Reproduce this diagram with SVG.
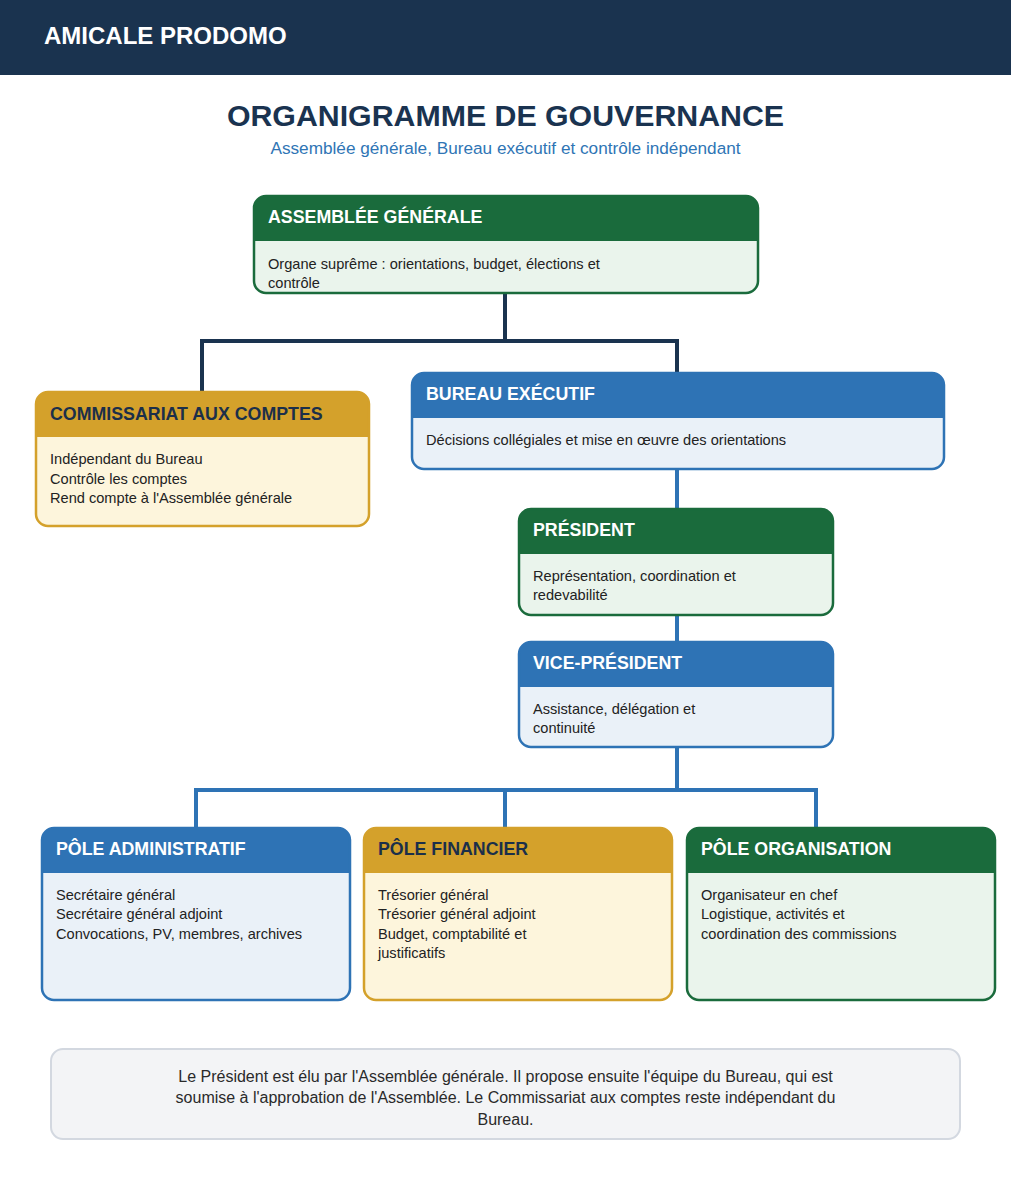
<svg xmlns="http://www.w3.org/2000/svg" width="1011" height="1200" viewBox="0 0 1011 1200">
<style>
text{font-family:"Liberation Sans",Arial,sans-serif}
.ttl{font-size:17.8px;font-weight:bold;fill:#fff}
.ttld{font-size:17.8px;font-weight:bold;fill:#1b2f4a}
.bd{font-size:14.6px;fill:#222}
.g .body{fill:#eaf4ec;stroke:none}
.g .hd{fill:#1a6b3c}
.g .bdr{fill:none;stroke:#1a6b3c;stroke-width:2.5}
.b .body{fill:#eaf1f8;stroke:none}
.b .hd{fill:#2e73b5}
.b .bdr{fill:none;stroke:#2e73b5;stroke-width:2.5}
.y .body{fill:#fdf5dc;stroke:none}
.y .hd{fill:#d4a12b}
.y .bdr{fill:none;stroke:#d4a12b;stroke-width:2.5}
.cn{fill:none;stroke-width:4;stroke-linecap:square}
.nt{font-size:16px;fill:#2a2a2a}
</style>
<rect x="0" y="0" width="1011" height="1200" fill="#fff"/>
<rect x="0" y="0" width="1011" height="75" fill="#1a334f"/>
<text x="44" y="44" style="font-size:24px;font-weight:bold;fill:#fff">AMICALE PRODOMO</text>
<text x="505.500" y="126" text-anchor="middle" style="font-size:30.3px;font-weight:bold;fill:#1a3350">ORGANIGRAMME DE GOUVERNANCE</text>
<text x="505.500" y="154" text-anchor="middle" style="font-size:17.2px;fill:#2f75b5">Assemblée générale, Bureau exécutif et contrôle indépendant</text>

<g id="connectors">
<path class="cn" stroke="#1a334f" d="M505 294 V341 M202 341 H677 M202 341 V391 M677 341 V372"/>
<path class="cn" stroke="#2e73b5" d="M677 470 V508 M677 616 V641 M677 748 V790 M196 790 H816 M196 790 V827 M505 790 V827 M816 790 V827"/>
</g>

<g id="assemblee" class="g">
<rect class="body" x="254" y="196" width="504" height="97" rx="12"/>
<path class="hd" d="M254 241 V208 A12 12 0 0 1 266 196 H746 A12 12 0 0 1 758 208 V241 Z"/>
<rect class="bdr" x="254" y="196" width="504" height="97" rx="12"/>
<text class="ttl" x="268" y="223">ASSEMBLÉE GÉNÉRALE</text>
<text class="bd" x="268" y="269">Organe suprême : orientations, budget, élections et</text>
<text class="bd" x="268" y="288">contrôle</text>
</g>

<g id="commissariat" class="y">
<rect class="body" x="36" y="392" width="333" height="134" rx="12"/>
<path class="hd" d="M36 437 V404 A12 12 0 0 1 48 392 H357 A12 12 0 0 1 369 404 V437 Z"/>
<rect class="bdr" x="36" y="392" width="333" height="134" rx="12"/>
<text class="ttld" x="50" y="420">COMMISSARIAT AUX COMPTES</text>
<text class="bd" x="50" y="464">Indépendant du Bureau</text>
<text class="bd" x="50" y="484">Contrôle les comptes</text>
<text class="bd" x="50" y="503">Rend compte à l'Assemblée générale</text>
</g>

<g id="bureau" class="b">
<rect class="body" x="412" y="373" width="532" height="96" rx="12"/>
<path class="hd" d="M412 418 V385 A12 12 0 0 1 424 373 H932 A12 12 0 0 1 944 385 V418 Z"/>
<rect class="bdr" x="412" y="373" width="532" height="96" rx="12"/>
<text class="ttl" x="426" y="400">BUREAU EXÉCUTIF</text>
<text class="bd" x="426" y="445">Décisions collégiales et mise en œuvre des orientations</text>
</g>

<g id="president" class="g">
<rect class="body" x="519" y="509" width="314" height="106" rx="12"/>
<path class="hd" d="M519 554 V521 A12 12 0 0 1 531 509 H821 A12 12 0 0 1 833 521 V554 Z"/>
<rect class="bdr" x="519" y="509" width="314" height="106" rx="12"/>
<text class="ttl" x="533" y="536">PRÉSIDENT</text>
<text class="bd" x="533" y="581">Représentation, coordination et</text>
<text class="bd" x="533" y="600">redevabilité</text>
</g>

<g id="vicepresident" class="b">
<rect class="body" x="519" y="642" width="314" height="105" rx="12"/>
<path class="hd" d="M519 687 V654 A12 12 0 0 1 531 642 H821 A12 12 0 0 1 833 654 V687 Z"/>
<rect class="bdr" x="519" y="642" width="314" height="105" rx="12"/>
<text class="ttl" x="533" y="669">VICE-PRÉSIDENT</text>
<text class="bd" x="533" y="714">Assistance, délégation et</text>
<text class="bd" x="533" y="733">continuité</text>
</g>

<g id="pole-admin" class="b">
<rect class="body" x="42" y="828" width="308" height="172" rx="12"/>
<path class="hd" d="M42 873 V840 A12 12 0 0 1 54 828 H338 A12 12 0 0 1 350 840 V873 Z"/>
<rect class="bdr" x="42" y="828" width="308" height="172" rx="12"/>
<text class="ttl" x="56" y="855">PÔLE ADMINISTRATIF</text>
<text class="bd" x="56" y="900">Secrétaire général</text>
<text class="bd" x="56" y="919">Secrétaire général adjoint</text>
<text class="bd" x="56" y="939">Convocations, PV, membres, archives</text>
</g>

<g id="pole-financier" class="y">
<rect class="body" x="364" y="828" width="308" height="172" rx="12"/>
<path class="hd" d="M364 873 V840 A12 12 0 0 1 376 828 H660 A12 12 0 0 1 672 840 V873 Z"/>
<rect class="bdr" x="364" y="828" width="308" height="172" rx="12"/>
<text class="ttld" x="378" y="855">PÔLE FINANCIER</text>
<text class="bd" x="378" y="900">Trésorier général</text>
<text class="bd" x="378" y="919">Trésorier général adjoint</text>
<text class="bd" x="378" y="939">Budget, comptabilité et</text>
<text class="bd" x="378" y="958">justificatifs</text>
</g>

<g id="pole-organisation" class="g">
<rect class="body" x="687" y="828" width="308" height="172" rx="12"/>
<path class="hd" d="M687 873 V840 A12 12 0 0 1 699 828 H983 A12 12 0 0 1 995 840 V873 Z"/>
<rect class="bdr" x="687" y="828" width="308" height="172" rx="12"/>
<text class="ttl" x="701" y="855">PÔLE ORGANISATION</text>
<text class="bd" x="701" y="900">Organisateur en chef</text>
<text class="bd" x="701" y="919">Logistique, activités et</text>
<text class="bd" x="701" y="939">coordination des commissions</text>
</g>

<g id="note">
<rect x="51" y="1049" width="909" height="90" rx="12" fill="#f3f4f6" stroke="#d3d8e0" stroke-width="2"/>
<text class="nt" x="505.500" y="1082" text-anchor="middle">Le Président est élu par l'Assemblée générale. Il propose ensuite l'équipe du Bureau, qui est</text>
<text class="nt" x="505.500" y="1103" text-anchor="middle">soumise à l'approbation de l'Assemblée. Le Commissariat aux comptes reste indépendant du</text>
<text class="nt" x="505.500" y="1125" text-anchor="middle">Bureau.</text>
</g>
</svg>
